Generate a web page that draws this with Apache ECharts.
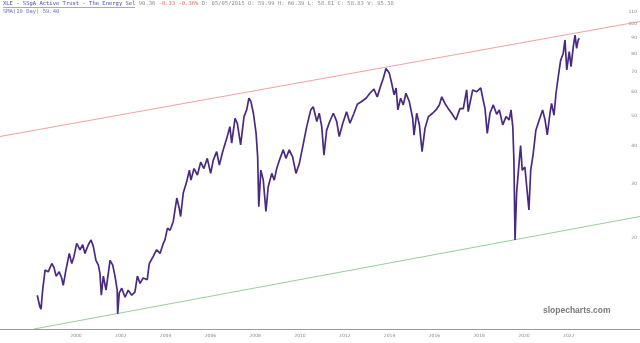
<!DOCTYPE html>
<html>
<head>
<meta charset="utf-8">
<title>XLE</title>
<script src="https://cdn.jsdelivr.net/npm/echarts@6.0.0/dist/echarts.min.js"></script>
<style>html,body{margin:0;padding:0;background:#fff}#main{width:640px;height:343px}</style>
</head>
<body>
<div id="main"></div>
<script>
// price trace (decimal year, price)
var years = [1998.27,1998.39,1998.44,1998.51,1998.62,1998.76,1998.92,1999.02,1999.11,1999.25,1999.36,1999.43,1999.55,1999.70,1999.81,1999.91,
  2000.03,2000.18,2000.30,2000.40,2000.55,2000.67,2000.77,2000.89,2001.00,2001.07,2001.13,2001.22,2001.34,2001.52,2001.64,2001.74,2001.84,2001.86,2001.93,
  2002.04,2002.19,2002.33,2002.49,2002.63,2002.74,2002.86,2003.00,2003.18,2003.27,2003.45,2003.60,2003.75,2003.90,2003.97,
  2004.08,2004.20,2004.34,2004.50,2004.61,2004.67,2004.79,2004.94,2005.06,2005.13,2005.27,2005.42,2005.57,2005.71,2005.86,
  2006.01,2006.13,2006.28,2006.40,2006.55,2006.73,2006.87,2006.95,2007.10,2007.20,2007.35,2007.50,2007.62,2007.72,2007.81,2007.92,
  2008.04,2008.11,2008.16,2008.25,2008.36,2008.48,2008.58,2008.74,2008.85,2008.96,2009.11,2009.25,2009.37,2009.52,2009.67,2009.82,2009.97,
  2010.12,2010.30,2010.48,2010.59,2010.75,2010.86,2010.97,2011.07,2011.19,2011.34,2011.49,2011.64,2011.75,2011.91,
  2012.08,2012.23,2012.41,2012.56,2012.75,2012.95,2013.12,2013.30,2013.45,2013.60,2013.72,2013.84,2013.99,
  2014.11,2014.20,2014.29,2014.37,2014.49,2014.61,2014.73,2014.88,2015.03,2015.09,2015.21,2015.33,2015.45,2015.58,2015.73,2015.92,
  2016.07,2016.22,2016.33,2016.47,2016.62,2016.77,2016.96,2017.14,2017.29,2017.44,2017.51,2017.71,2017.89,
  2018.07,2018.16,2018.26,2018.36,2018.48,2018.63,2018.78,2018.90,2019.05,2019.20,2019.34,2019.42,2019.50,2019.55,2019.60,2019.67,2019.79,2019.85,2019.92,
  2020.04,2020.15,2020.22,2020.30,2020.41,2020.53,2020.68,2020.83,2020.94,2021.04,2021.16,2021.23,2021.34,2021.43,2021.53,2021.64,2021.75,2021.83,2021.91,
  2022.02,2022.10,2022.20,2022.28,2022.35,2022.42,2022.47];
var closes = [13.0,11.9,11.7,13.5,15.7,15.5,16.5,16.0,15.0,15.5,14.8,14.0,15.7,17.8,16.5,17.4,
  19.2,18.3,19.0,17.8,19.0,19.7,18.8,16.9,16.3,15.3,13.0,15.0,13.5,16.9,16.3,15.0,13.5,11.3,13.2,
  13.7,12.8,13.5,13.0,13.3,15.0,14.2,14.8,14.6,16.5,17.4,18.3,17.8,19.2,19.7,
  21.5,21.2,22.6,27.0,25.0,23.5,28.1,30.5,33.3,30.9,33.7,32.1,35.4,33.7,36.4,
  32.5,35.9,38.3,34.6,38.3,42.3,46.2,40.8,49.2,47.4,40.3,49.8,52.4,57.2,55.8,51.1,
  43.9,36.8,25.3,33.3,30.9,24.4,29.4,32.5,30.9,33.7,36.4,38.8,36.4,38.8,36.8,32.5,35.0,
  39.7,46.2,52.4,53.7,48.0,51.1,46.2,37.3,45.0,48.3,51.1,48.0,42.9,47.4,
  51.7,47.4,51.1,54.7,55.8,57.2,59.4,61.3,57.8,62.7,66.5,71.6,69.0,
  63.2,58.7,61.8,52.4,57.2,54.4,59.4,55.8,49.2,43.3,51.1,46.8,38.3,45.6,49.8,51.1,
  52.4,54.4,57.8,55.0,52.9,51.1,48.6,52.9,52.9,60.9,51.7,60.9,60.1,
  61.8,57.2,52.9,43.9,51.1,54.4,50.7,52.4,46.8,49.8,48.6,52.4,46.2,35.9,19.7,28.0,35.9,40.1,33.3,
  34.1,28.0,24.7,33.3,37.6,45.0,48.6,52.4,48.6,43.4,51.1,55.0,50.4,59.4,67.3,76.3,80.1,88.7,70.8,
  81.2,72.6,84.3,92.0,83.3,88.7,89.8];

var xTicks = [2000,2002,2004,2006,2008,2010,2012,2014,2016,2018,2020,2022];
var yTicks = [20,30,40,50,60,70,80,90,100,110];

// trend lines (end points)
var redYears = [1996.607, 2025.179];
var redValues = [42.9, 101.9];
var greenYears = [1998.125, 2025.179];
var greenValues = [10.08, 23.5];

function lg(v){ return Math.log(v) / Math.LN10; }
function pairs(xs, vs){
    var out = [];
    for(var i = 0; i < xs.length; i++) out.push([xs[i], lg(vs[i])]);
    return out;
}

var chart = echarts.init(document.getElementById('main'));
chart.setOption({
    animation: false,
    backgroundColor: '#fff',
    grid: {left: 0, right: 0, top: 0, bottom: 14, outerBoundsMode: 'none'},
    xAxis: {
        type: 'value', min: 1996.607, max: 2025.179,
        splitLine: {show: false},
        axisTick: {show: false},
        axisLine: {lineStyle: {color: '#9a9a9a', width: 1}},
        axisLabel: {
            customValues: xTicks, margin: 4, fontSize: 4.5, color: '#888',
            fontFamily: 'DejaVu Sans',
            formatter: function(v){ return String(v); }
        }
    },
    yAxis: {
        type: 'value', position: 'right', min: lg(10.08), max: lg(119.8),
        splitLine: {show: false},
        axisTick: {show: false},
        axisLine: {show: false},
        axisLabel: {
            inside: true, margin: 3, fontSize: 4.5, color: '#888',
            fontFamily: 'DejaVu Sans',
            customValues: yTicks.map(lg),
            formatter: function(v){ return String(Math.round(Math.pow(10, v))); }
        }
    },
    series: [
        {name: 'upper', type: 'line', data: pairs(redYears, redValues), showSymbol: false,
         lineStyle: {color: '#e88a8a', width: 0.8}},
        {name: 'lower', type: 'line', data: pairs(greenYears, greenValues), showSymbol: false,
         lineStyle: {color: '#7fbf7f', width: 0.8}},
        {name: 'XLE', type: 'line', data: pairs(years, closes), showSymbol: false,
         lineStyle: {color: '#4a2a80', width: 1.7}}
    ],
    graphic: [
        {type: 'text', left: 3, top: 1, style: {
            text: '{a|XLE - SSgA Active Trust - The Energy Sel} {b|90.36} {c|-0.33 -0.36%} {b|D: 05/05/2015 O: 59.99 H: 60.39 L: 58.81 C: 58.83 V: 95.38}',
            fontFamily: 'DejaVu Sans Mono', fontSize: 5.5,
            rich: {
                a: {fill: '#4b4bb0', fontFamily: 'DejaVu Sans Mono', fontSize: 5.5},
                b: {fill: '#8a8a8a', fontFamily: 'DejaVu Sans Mono', fontSize: 5.5},
                c: {fill: '#e06a6a', fontFamily: 'DejaVu Sans Mono', fontSize: 5.5}
            }
        }},
        {type: 'line', shape: {x1: 3, y1: 7.5, x2: 135, y2: 7.5}, style: {stroke: '#4b4bb0', lineWidth: 0.5}},
        {type: 'text', left: 3, top: 8.5, style: {
            text: 'SMA(10 Day) 59.40', fill: '#7070c0',
            fontFamily: 'DejaVu Sans Mono', fontSize: 5.5
        }},
        {type: 'text', left: 543, top: 306, style: {
            text: 'slopecharts.com', fill: '#7a7a7a',
            fontFamily: 'Liberation Sans', fontWeight: 'bold', fontSize: 8.5
        }}
    ]
});
</script>
</body>
</html>
